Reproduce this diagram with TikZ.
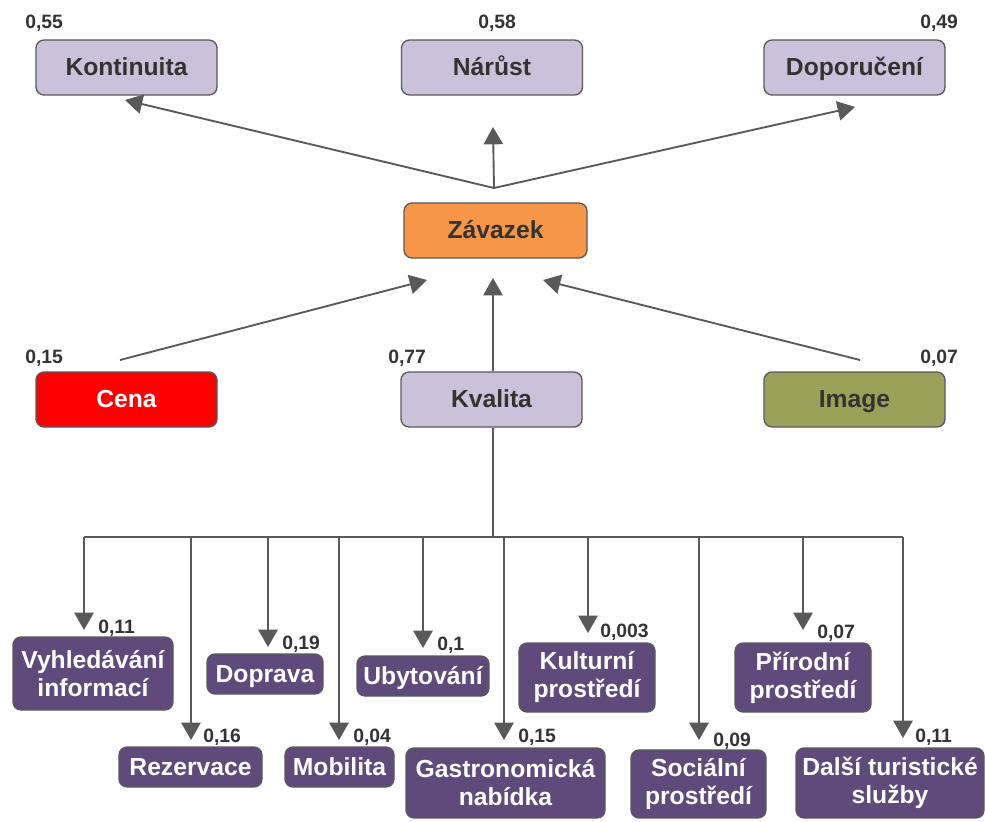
\documentclass[tikz,border=0pt]{standalone}
\usepackage{fontspec}
\setmainfont{Liberation Sans}
\usetikzlibrary{arrows.meta}
\definecolor{lav}{HTML}{CCC1DA}
\definecolor{purp}{HTML}{604A7B}
\definecolor{orng}{HTML}{F79646}
\definecolor{oliv}{HTML}{9BA159}
\definecolor{edge}{HTML}{595959}
\definecolor{txt}{HTML}{333333}
\tikzset{
  box/.style={rectangle, rounded corners=6pt, draw=edge, line width=1pt, inner sep=0pt, align=center,
    font=\fontsize{18.5}{21}\selectfont\bfseries},
  oneline/.style={text height=16pt, text depth=3.5pt},
  topbox/.style={box, oneline, fill=lav, text=txt, minimum width=135.75pt, minimum height=41.25pt},
  leaf/.style={box, fill=purp, text=white},
  num/.style={anchor=base west, inner sep=0pt, text=txt, font=\fontsize{14.5}{16}\selectfont\bfseries},
  lnum/.style={num},
  conn/.style={draw=edge, line width=1.4pt},
  thin conn/.style={draw=edge, line width=1pt},
  arr/.style={conn, -{Triangle[length=13pt,width=14.5pt]}},
}
\begin{document}
\begin{tikzpicture}[x=0.75pt,y=-0.75pt]
\useasboundingbox (0,0) rectangle (985,821);
% top row
\node[topbox] (kont) at (126.5,67.5) {Kontinuita};
\node[topbox] (narust) at (492,67.5) {Nárůst};
\node[topbox] (dopor) at (854.5,67.5) {Doporučení};
\node[num] (n055) at (25,28) {0,55};
\node[num] (n058) at (478,28) {0,58};
\node[num] (n049) at (920,28) {0,49};
% middle
\node[topbox, fill=orng, minimum width=137.25pt] (zav) at (495.5,230.5) {Závazek};
\node[topbox, fill=red, text=white] (cena) at (126.5,399.5) {Cena};
\node[topbox] (kval) at (491.5,399.5) {Kvalita};
\node[topbox, fill=oliv] (image) at (854.5,399.5) {Image};
\node[num] (n015) at (25,363) {0,15};
\node[num] (n077) at (388,363) {0,77};
\node[num] (n007) at (920,363) {0,07};
% arrows top
\coordinate (hub) at (494,188);
\coordinate (tK) at (125,100);
\coordinate (tN) at (493,127);
\coordinate (tD) at (855,107);
\draw[arr] (hub) -- (tK);
\draw[arr] (hub) -- (tN);
\draw[arr] (hub) -- (tD);
% arrows to Zavazek
\coordinate (sC) at (120,360);
\coordinate (tC) at (427,280);
\coordinate (tKv) at (493,278);
\coordinate (sI) at (860,360);
\coordinate (tI) at (543,280);
\draw[arr] (sC) -- (tC);
\draw[arr] (kval.north -| tKv) -- (tKv);
\draw[arr] (sI) -- (tI);
% tree
\coordinate (busL) at (84,537);
\coordinate (busR) at (903,537);
\draw[thin conn] (kval.south -| tKv) -- (tKv |- busL);
\draw[thin conn] (busL) -- (busR);
% leaves
\node[leaf, minimum width=120pt, minimum height=54.75pt] (vyh) at (93,673.5) {Vyhledávání\\informací};
\node[leaf, oneline, minimum width=87pt, minimum height=30pt] (dopr) at (265,674) {Doprava};
\node[leaf, oneline, minimum width=107.25pt, minimum height=30pt] (rez) at (190.5,767) {Rezervace};
\node[leaf, oneline, minimum width=81.75pt, minimum height=30pt] (mob) at (339.5,767) {Mobilita};
\node[leaf, oneline, minimum width=99pt, minimum height=30pt] (uby) at (423,676) {Ubytování};
\node[leaf, minimum width=102pt, minimum height=51.75pt] (kult) at (587,677.5) {Kulturní\\prostředí};
\node[leaf, minimum width=149.25pt, minimum height=52.5pt] (gast) at (505.5,783) {Gastronomická\\nabídka};
\node[leaf, minimum width=101.25pt, minimum height=51pt] (soc) at (698.5,784) {Sociální\\prostředí};
\node[leaf, minimum width=102pt, minimum height=51.75pt] (prir) at (803,677.5) {Přírodní\\prostředí};
\node[leaf, minimum width=141pt, minimum height=52.5pt] (dals) at (890,783) {Další turistické\\služby};
% drop tips
\coordinate (dV) at (84,630);
\coordinate (dR) at (191,740);
\coordinate (dD) at (268,647);
\coordinate (dM) at (339,740);
\coordinate (dU) at (423,648);
\coordinate (dG) at (504,740);
\coordinate (dK) at (588,633);
\coordinate (dS) at (699,740);
\coordinate (dP) at (803,630);
\coordinate (dX) at (903,738);
\foreach \t in {dV,dR,dD,dM,dU,dG,dK,dS,dP,dX}
  \draw[arr] (busL -| \t) -- (\t);
% leaf numbers
\node[lnum] (l1) at (98,633) {0,11};
\node[lnum] (l2) at (203,742) {0,16};
\node[lnum] (l3) at (282,649) {0,19};
\node[lnum] (l4) at (353,742) {0,04};
\node[lnum] (l5) at (437,650) {0,1};
\node[lnum] (l6) at (518,742) {0,15};
\node[lnum] (l7) at (600,637) {0,003};
\node[lnum] (l8) at (713,746) {0,09};
\node[lnum] (l9) at (817,638) {0,07};
\node[lnum] (l10) at (915,742) {0,11};
\end{tikzpicture}
\end{document}
